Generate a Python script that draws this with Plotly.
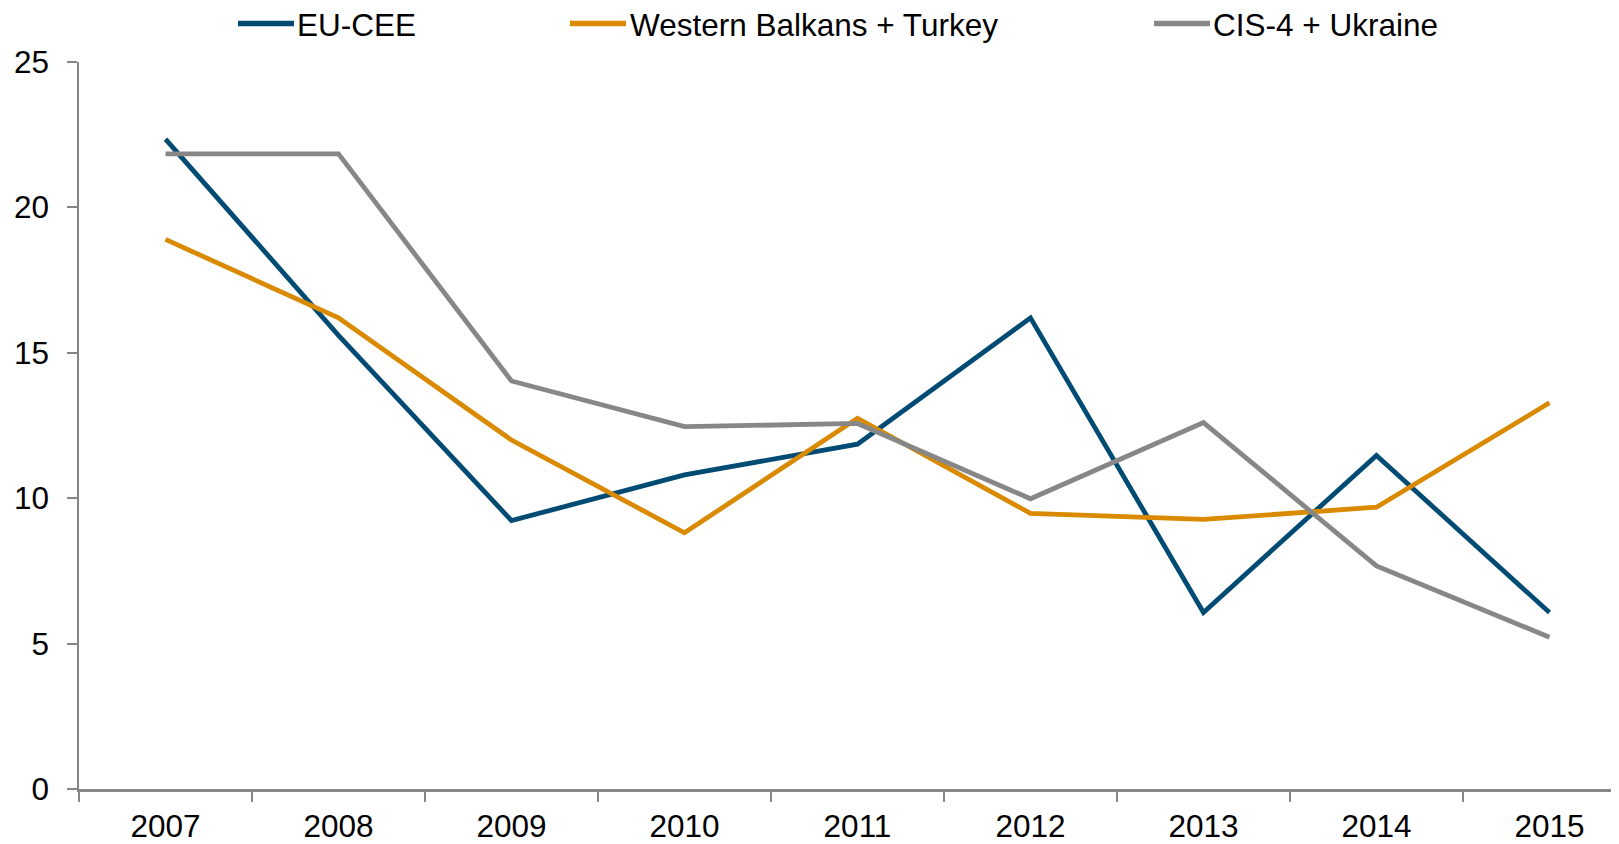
import plotly.graph_objects as go

years = ["2007", "2008", "2009", "2010", "2011", "2012", "2013", "2014", "2015"]
eu_cee = [22.35, 15.6, 9.23, 10.8, 11.86, 16.2, 6.07, 11.47, 6.07]
wb_turkey = [18.9, 16.2, 12.0, 8.81, 12.75, 9.48, 9.27, 9.69, 13.28]
cis_ukraine = [21.84, 21.84, 14.03, 12.46, 12.57, 9.98, 12.6, 7.67, 5.22]

series_names = ["EU-CEE", "Western Balkans + Turkey", "CIS-4 + Ukraine"]
colors = ["#004B73", "#D98A00", "#878787"]
y_ticks = [0, 5, 10, 15, 20, 25]

# page has an 8px body margin; compensate so the plot lands where the reference has it
OFF = 8
W, H = 1619 - OFF, 844 - OFF
L, R, T, B = 79 - OFF, 0, 62 - OFF, 47
FONT = "Liberation Sans, Arial, sans-serif"
FS = 31.5

fig = go.Figure()
for name, vals, col in zip(series_names, [eu_cee, wb_turkey, cis_ukraine], colors):
    fig.add_trace(go.Scatter(x=years, y=vals, mode="lines", name=name,
                             line=dict(color=col, width=4.8), showlegend=False))

# manual legend (page pixel positions converted to paper coords)
pw, ph = W - L - R, H - T - B
def px(x):
    return (x - OFF - L) / pw
def py(y):
    return (H - B - (y - OFF)) / ph

legend_items = [(238, 294, 298), (570, 626, 631), (1154, 1210, 1214)]
for (x0, x1, xt), name, col in zip(legend_items, series_names, colors):
    fig.add_shape(type="line", xref="paper", yref="paper",
                  x0=px(x0), x1=px(x1), y0=py(23), y1=py(23),
                  line=dict(color=col, width=5.5))
    fig.add_annotation(xref="paper", yref="paper", x=px(xt), y=py(25),
                       text=name, showarrow=False, xanchor="left", yanchor="middle",
                       xshift=-2, borderpad=0,
                       font=dict(family=FONT, size=FS, color="black"))

fig.update_layout(
    width=W, height=H,
    margin=dict(l=L, r=R, t=T, b=B, pad=0),
    plot_bgcolor="white", paper_bgcolor="white",
    font=dict(family=FONT, size=FS, color="black"),
    showlegend=False,
)
fig.update_xaxes(type="category", range=[-0.5, 8.402], showgrid=False,
                 showline=True, linecolor="#868686", linewidth=3,
                 ticks="outside", tickson="boundaries", ticklen=10,
                 tickcolor="#868686", tickwidth=1.5, ticklabelstandoff=7,
                 tickfont=dict(family=FONT, size=FS, color="black"))
fig.update_yaxes(range=[0, 25], tickvals=y_ticks, showgrid=False, zeroline=False,
                 showline=True, linecolor="#868686", linewidth=1.5,
                 ticks="outside", ticklen=10, tickcolor="#868686", tickwidth=1.5,
                 ticklabelstandoff=12,
                 tickfont=dict(family=FONT, size=FS, color="black"))

fig.write_html("out.html")
